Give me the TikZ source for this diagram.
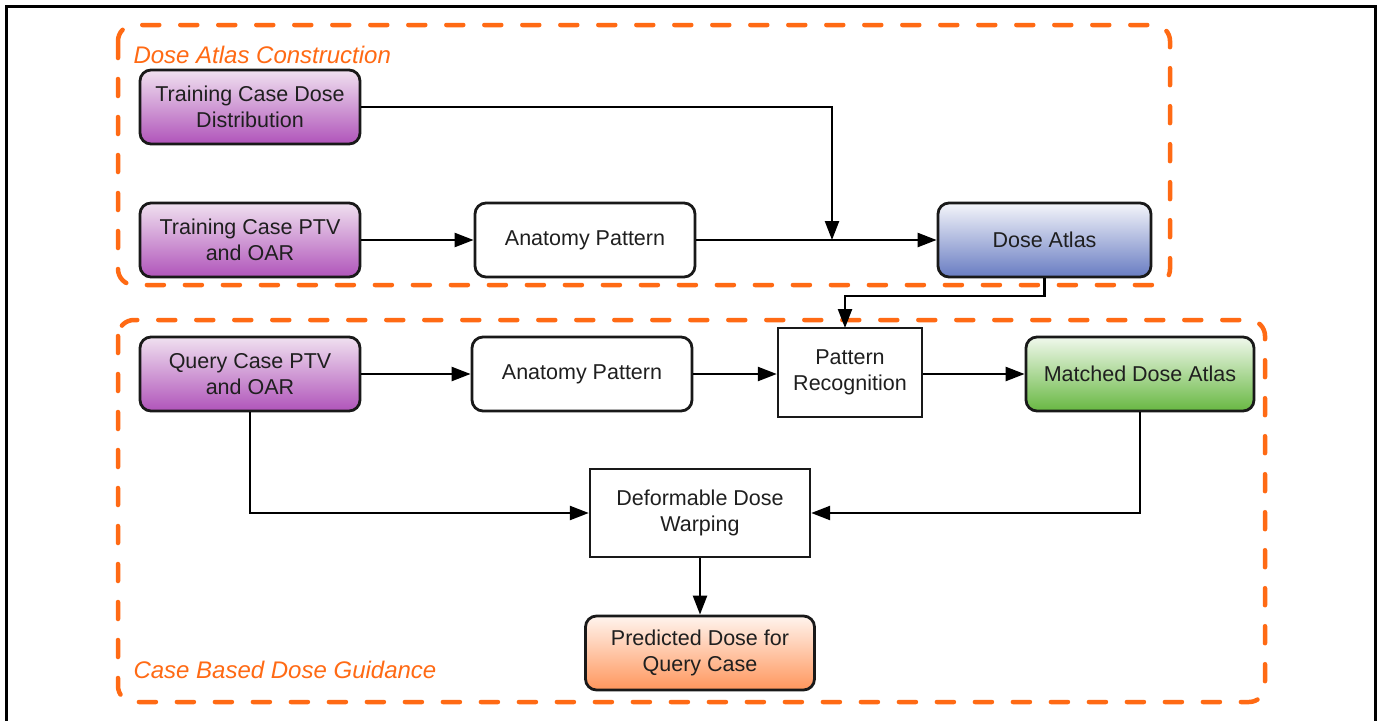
\documentclass[tikz,border=0pt]{standalone}
\usepackage{fontspec}
\setmainfont{Liberation Sans}
\usetikzlibrary{arrows.meta,calc}
\definecolor{dorange}{HTML}{FF6A14}
\begin{document}
\begin{tikzpicture}[x=1pt,y=-1pt,
  every node/.style={font=\fontsize{21.5}{26}\selectfont, text=black!88, align=center},
  rbox/.style={draw=black!90, line width=2.8pt, rounded corners=11pt, inner sep=0pt},
  sbox/.style={draw=black!90, line width=2.4pt, inner sep=0pt},
  purp/.style={rbox, top color=white!88!violet, bottom color={rgb,255:red,176;green,84;blue,186}},
  blu/.style={rbox, top color={rgb,255:red,244;green,245;blue,250}, bottom color={rgb,255:red,104;green,124;blue,194}},
  grn/.style={rbox, top color={rgb,255:red,240;green,248;blue,236}, bottom color={rgb,255:red,104;green,184;blue,66}},
  orn/.style={rbox, top color={rgb,255:red,255;green,244;blue,238}, bottom color={rgb,255:red,255;green,150;blue,92}},
  wht/.style={rbox, fill=white},
  grp/.style={draw=dorange, line width=4.5pt, dash pattern=on 17pt off 21pt, line cap=round, rounded corners=16pt},
  grplabel/.style={font=\fontsize{24}{28}\selectfont\itshape, text=dorange, anchor=west},
  conn/.style={line width=2.4pt, draw=black, -{Triangle[length=19pt,width=14pt]}},
  plain/.style={line width=2.4pt, draw=black}
]
\useasboundingbox (0,0) rectangle (1383,720);
\fill[white] (0,0) rectangle (1383,720);
% outer frame
\draw[line width=3pt] (6,722) -- (6,6) -- (1375,6) -- (1375,722);

% groups
\draw[grp] (118,25) rectangle (1170,285);
\draw[grp] (118,320) rectangle (1265,702);
\node[grplabel] (lab1) at (130,55) {Dose Atlas Construction};
\node[grplabel] (lab2) at (130,670) {Case Based Dose Guidance};

% nodes (top)
\node[purp, minimum width=220pt, minimum height=74pt] (tcdd) at (250,107) {Training Case Dose\\Distribution};
\node[purp, minimum width=220pt, minimum height=74pt] (tcptv) at (250,240) {Training Case PTV\\and OAR};
\node[wht, minimum width=220pt, minimum height=74pt] (ap1) at (585,240) {Anatomy Pattern};
\node[blu, minimum width=213pt, minimum height=74pt] (da) at (1044.5,240) {Dose Atlas};

% nodes (bottom)
\node[purp, minimum width=220pt, minimum height=74pt] (qc) at (250,374) {Query Case PTV\\and OAR};
\node[wht, minimum width=220pt, minimum height=74pt] (ap2) at (582,374) {Anatomy Pattern};
\node[sbox, fill=white, minimum width=144pt, minimum height=89pt] (pr) at (850,372.5) {Pattern\\Recognition};
\node[grn, minimum width=228pt, minimum height=74pt] (mda) at (1140,374) {Matched Dose Atlas};
\node[sbox, fill=white, minimum width=220pt, minimum height=88pt] (ddw) at (700,513) {Deformable Dose\\Warping};
\node[orn, minimum width=229pt, minimum height=74pt] (pd) at (700,653) {Predicted Dose for\\Query Case};

% connectors (top)
\coordinate (m) at (832,240);
\draw[conn] (tcdd.east) -| (m);
\draw[conn] (tcptv.east) -- (ap1.west);
\draw[conn] (ap1.east) -- (da.west);
\draw[conn] (da.south) |- (845,296) -- (845,328);

% connectors (bottom)
\draw[conn] (qc.east) -- (ap2.west);
\draw[conn] (ap2.east) -- (ap2.east -| pr.west);
\draw[conn] (pr.east |- mda.west) -- (mda.west);
\draw[conn] (qc.south) |- (ddw.west);
\draw[conn] (mda.south) |- (ddw.east);
\draw[conn] (ddw.south) -- (pd.north);
\end{tikzpicture}
\end{document}
